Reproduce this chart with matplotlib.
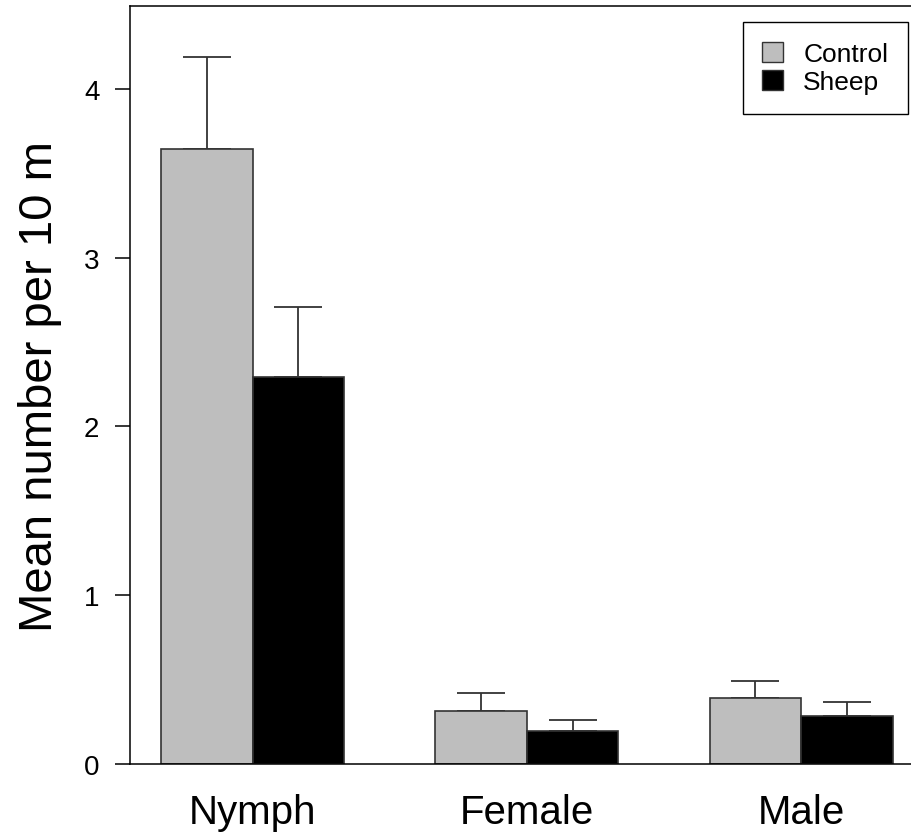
import matplotlib.pyplot as plt
import numpy as np
from matplotlib.patches import Patch

plt.rcParams['font.family'] = ['Liberation Sans', 'DejaVu Sans']

stages = ['Nymph', 'Female', 'Male']
control_mean = [3.645, 0.314, 0.391]
control_se = [0.54, 0.107, 0.101]
sheep_mean = [2.293, 0.196, 0.284]
sheep_se = [0.415, 0.065, 0.083]
series = ['Control', 'Sheep']

W, H = 912, 837
fig = plt.figure(figsize=(W / 100, H / 100), dpi=100)
# axes box in pixels: left 130, right ~921 (off canvas), top 7, bottom 765
ax = fig.add_axes([130 / W, (H - 765) / H, (921 - 130) / W, (765 - 7) / H])

# R barplot style: width 1, space c(0, 1)
g = np.arange(len(stages)) * 3
xc = g + 1.5
xs = g + 2.5
edge = '#333333'
ax.bar(xc, control_mean, width=1, color='#bebebe', edgecolor=edge, linewidth=1.2, zorder=2)
ax.bar(xs, sheep_mean, width=1, color='black', edgecolor=edge, linewidth=1.2, zorder=2)
for x, m, e in [(xc, control_mean, control_se), (xs, sheep_mean, sheep_se)]:
  ax.errorbar(x, m, yerr=[np.zeros(len(m)), e], fmt='none', ecolor=edge,
              elinewidth=1.3, capsize=17, capthick=1.3, zorder=1)

ax.set_xlim(0.66, 9.31)
ax.set_ylim(0, 4.49)
ax.set_yticks([0, 1, 2, 3, 4])
ax.set_yticklabels(['0', '1', '2', '3', '4'], fontsize=20)
ax.tick_params(axis='y', length=11, width=1.1, pad=11, direction='out')
ax.set_xticks(g + 2)
ax.set_xticklabels(stages, fontsize=29)
ax.tick_params(axis='x', length=0, pad=21)
ax.spines['right'].set_visible(False)
for s in ['left', 'top', 'bottom']:
  ax.spines[s].set_linewidth(1.1)
ax.set_ylabel('Mean number per 10 m', fontsize=34, labelpad=16)

handles = [Patch(facecolor='#bebebe', edgecolor=edge), Patch(facecolor='black', edgecolor=edge)]
leg = ax.legend(handles, series, loc='upper right', bbox_to_anchor=(908 / W, 1 - 23 / H),
                bbox_transform=fig.transFigure, borderaxespad=0, fancybox=False,
                framealpha=1, edgecolor='black', fontsize=19, handlelength=0.8,
                handleheight=0.8, handletextpad=0.75, labelspacing=0.15,
                borderpad=0.75)
leg.get_frame().set_linewidth(1.0)

fig.savefig('out.png', dpi=100)
